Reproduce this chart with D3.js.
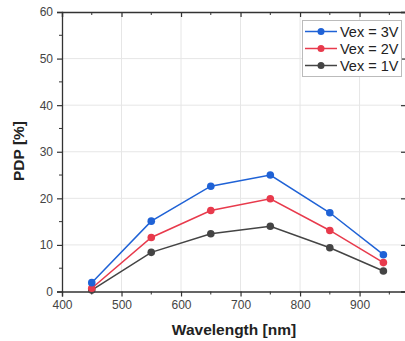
<!DOCTYPE html>
<html><head><meta charset="utf-8">
<script src="https://cdn.jsdelivr.net/npm/d3@7"></script>
<style>body{margin:0;background:#fff;}svg{display:block;font-family:"Liberation Sans",Arial,sans-serif;}</style>
</head><body><svg id="c" width="405" height="341"></svg>
<script>
const wavelengths = [450, 550, 650, 750, 850, 940];
const seriesNames = ["Vex = 3V", "Vex = 2V", "Vex = 1V"];
const vex3 = [1.9, 15.1, 22.6, 25.0, 16.9, 7.9];
const vex2 = [0.7, 11.6, 17.4, 19.9, 13.1, 6.2];
const vex1 = [0.3, 8.4, 12.4, 14.0, 9.4, 4.4];
const xTicks = [400, 500, 600, 700, 800, 900];
const yTicks = [0, 10, 20, 30, 40, 50, 60];
const colors = ["#1f62d6", "#e83a4c", "#444444"];

const svg = d3.select("#c");
const L = 62, R = 406, T = 12, B = 291.5;
const x = d3.scaleLinear().domain([400, 978]).range([L, R]);
const y = d3.scaleLinear().domain([0, 60]).range([B, T]);

// grid
const g = svg.append("g");
g.selectAll(".vg").data(xTicks.slice(1)).enter().append("line")
  .attr("x1", d => x(d)).attr("x2", d => x(d)).attr("y1", T).attr("y2", B)
  .attr("stroke", "#e6e6e6").attr("stroke-width", 1);
g.selectAll(".hg").data(yTicks.slice(1, -1)).enter().append("line")
  .attr("y1", d => y(d)).attr("y2", d => y(d)).attr("x1", L).attr("x2", R)
  .attr("stroke", "#e6e6e6").attr("stroke-width", 1);

const axisColor = "#333";
function styleAxis(sel) {
  sel.select(".domain").attr("stroke", axisColor).attr("stroke-width", 1.3);
  sel.selectAll(".tick line").attr("stroke", axisColor).attr("stroke-width", 1.2);
  sel.selectAll(".tick text").attr("fill", "#444").attr("font-size", 12);
}
const xMinor = d3.range(450, 978, 100);
const yMinor = d3.range(5, 60, 10);

// bottom axis
const xb = svg.append("g").attr("transform", `translate(0,${B})`)
  .call(d3.axisBottom(x).tickValues(xTicks).tickFormat(d3.format("d")).tickSizeOuter(0).tickSize(5).tickPadding(4));
styleAxis(xb);
xb.selectAll(".minor").data(xMinor).enter().append("line").attr("class","minor")
  .attr("x1", d => x(d)).attr("x2", d => x(d)).attr("y1", 0).attr("y2", 3).attr("stroke", axisColor);
// top axis
const xt = svg.append("g").attr("transform", `translate(0,${T})`)
  .call(d3.axisTop(x).tickValues(xTicks).tickFormat("").tickSizeOuter(0).tickSize(-5));
styleAxis(xt);
xt.selectAll(".minor").data(xMinor).enter().append("line").attr("class","minor")
  .attr("x1", d => x(d)).attr("x2", d => x(d)).attr("y1", 0).attr("y2", 3).attr("stroke", axisColor);
// left axis
const yl = svg.append("g").attr("transform", `translate(${L},0)`)
  .call(d3.axisLeft(y).tickValues(yTicks).tickFormat(d3.format("d")).tickSizeOuter(0).tickSize(5).tickPadding(4));
styleAxis(yl);
yl.selectAll(".minor").data(yMinor).enter().append("line").attr("class","minor")
  .attr("y1", d => y(d)).attr("y2", d => y(d)).attr("x1", 0).attr("x2", -3).attr("stroke", axisColor);
// right axis
const yr = svg.append("g").attr("transform", `translate(${R},0)`)
  .call(d3.axisRight(y).tickValues(yTicks).tickFormat("").tickSizeOuter(0).tickSize(-5));
styleAxis(yr);

// axis titles
svg.append("text").attr("x", 234).attr("y", 335).attr("text-anchor", "middle")
  .attr("font-size", 15.5).attr("font-weight", "bold").attr("fill", "#222").text("Wavelength [nm]");
svg.append("text").attr("transform", "translate(24,151) rotate(-90)").attr("text-anchor", "middle")
  .attr("font-size", 15.5).attr("font-weight", "bold").attr("fill", "#222").text("PDP [%]");

// series
const data = [vex3, vex2, vex1];
const line = d3.line().x((d, i) => x(wavelengths[i])).y(d => y(d));
data.slice().reverse().forEach((vals, ri) => {
  const i = data.length - 1 - ri;
  svg.append("path").datum(vals).attr("d", line).attr("fill", "none")
    .attr("stroke", colors[i]).attr("stroke-width", 1.5);
  svg.selectAll(".pt" + i).data(vals).enter().append("circle")
    .attr("cx", (d, j) => x(wavelengths[j])).attr("cy", d => y(d)).attr("r", 3.8)
    .attr("fill", colors[i]);
});

// legend
const lg = svg.append("g");
lg.append("rect").attr("x", 302.5).attr("y", 20.5).attr("width", 99).attr("height", 56)
  .attr("fill", "#fff").attr("stroke", "#bbb").attr("stroke-width", 1);
seriesNames.forEach((n, i) => {
  const yy = 31.5 + i * 17;
  lg.append("line").attr("x1", 305).attr("x2", 337).attr("y1", yy).attr("y2", yy)
    .attr("stroke", colors[i]).attr("stroke-width", 1.5);
  lg.append("circle").attr("cx", 321).attr("cy", yy).attr("r", 3.5).attr("fill", colors[i]);
  lg.append("text").attr("x", 340).attr("y", yy + 5).attr("font-size", 14.5).attr("fill", "#222").text(n);
});
</script></body></html>
